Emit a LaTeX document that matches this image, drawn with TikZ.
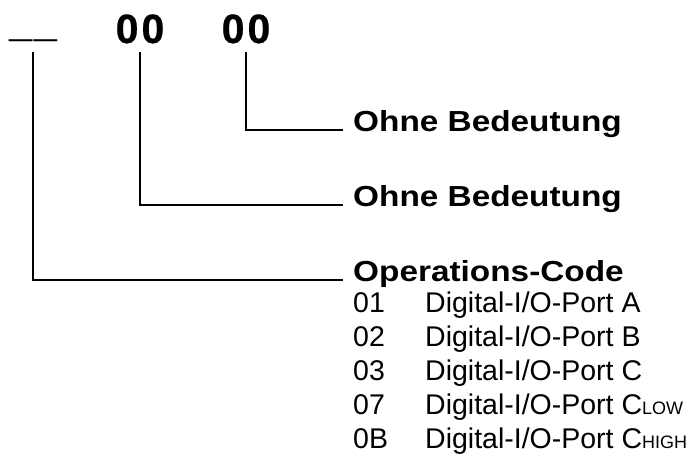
\documentclass[tikz,border=0pt]{standalone}
\usepackage{fontspec}
\setmainfont{Liberation Sans}
\newfontfamily\boldwide{Liberation Sans}[FakeStretch=1.15]
\newfontfamily\heavy{Liberation Sans}[FakeBold=0.6]
\newcommand\portsub[1]{{\fontsize{18}{18}\selectfont #1}}

\begin{document}
\begin{tikzpicture}[x=1pt,y=-1pt,
  wire/.style={line width=2.7pt},
  digits/.style={anchor=base,inner sep=0pt,font=\fontsize{41}{41}\selectfont\heavy\bfseries},
  title/.style={anchor=base west,inner sep=0pt,font=\fontsize{29}{29}\selectfont\boldwide\bfseries},
  row/.style={anchor=base west,inner sep=0pt,font=\fontsize{28.5}{28.5}\selectfont}]
\useasboundingbox (0,0) rectangle (696,455);
% the code word
\node[digits] (ph) at (33,36) {\_\kern2pt\_};
\node[digits] (dA) at (140,43) {0\kern3pt 0};
\node[digits] (dB) at (246,43) {0\kern3pt 0};
% meanings
\node[title] (lblA) at (353,131) {Ohne Bedeutung};
\node[title] (lblB) at (353,206) {Ohne Bedeutung};
\node[title] (lblOp) at (353,281) {Operations-Code};
\foreach \code/\port [count=\i] in {01/A,02/B,03/C,07/{C\portsub{LOW}},0B/{C\portsub{HIGH}}}{
  \node[row] (code\i) at (353,278+34*\i) {\code};
  \node[row] (port\i) at (425,278+34*\i) {Digital-I/O-Port \port};
}
% connectors
\draw[wire] ([yshift=-9pt]dB.base) |- ([xshift=-10pt,yshift=1pt]lblA.base west);
\draw[wire] ([yshift=-9pt]dA.base) |- ([xshift=-10pt,yshift=1pt]lblB.base west);
\draw[wire] ([yshift=-16pt]ph.base) |- ([xshift=-10pt,yshift=1pt]lblOp.base west);
\end{tikzpicture}
\end{document}
